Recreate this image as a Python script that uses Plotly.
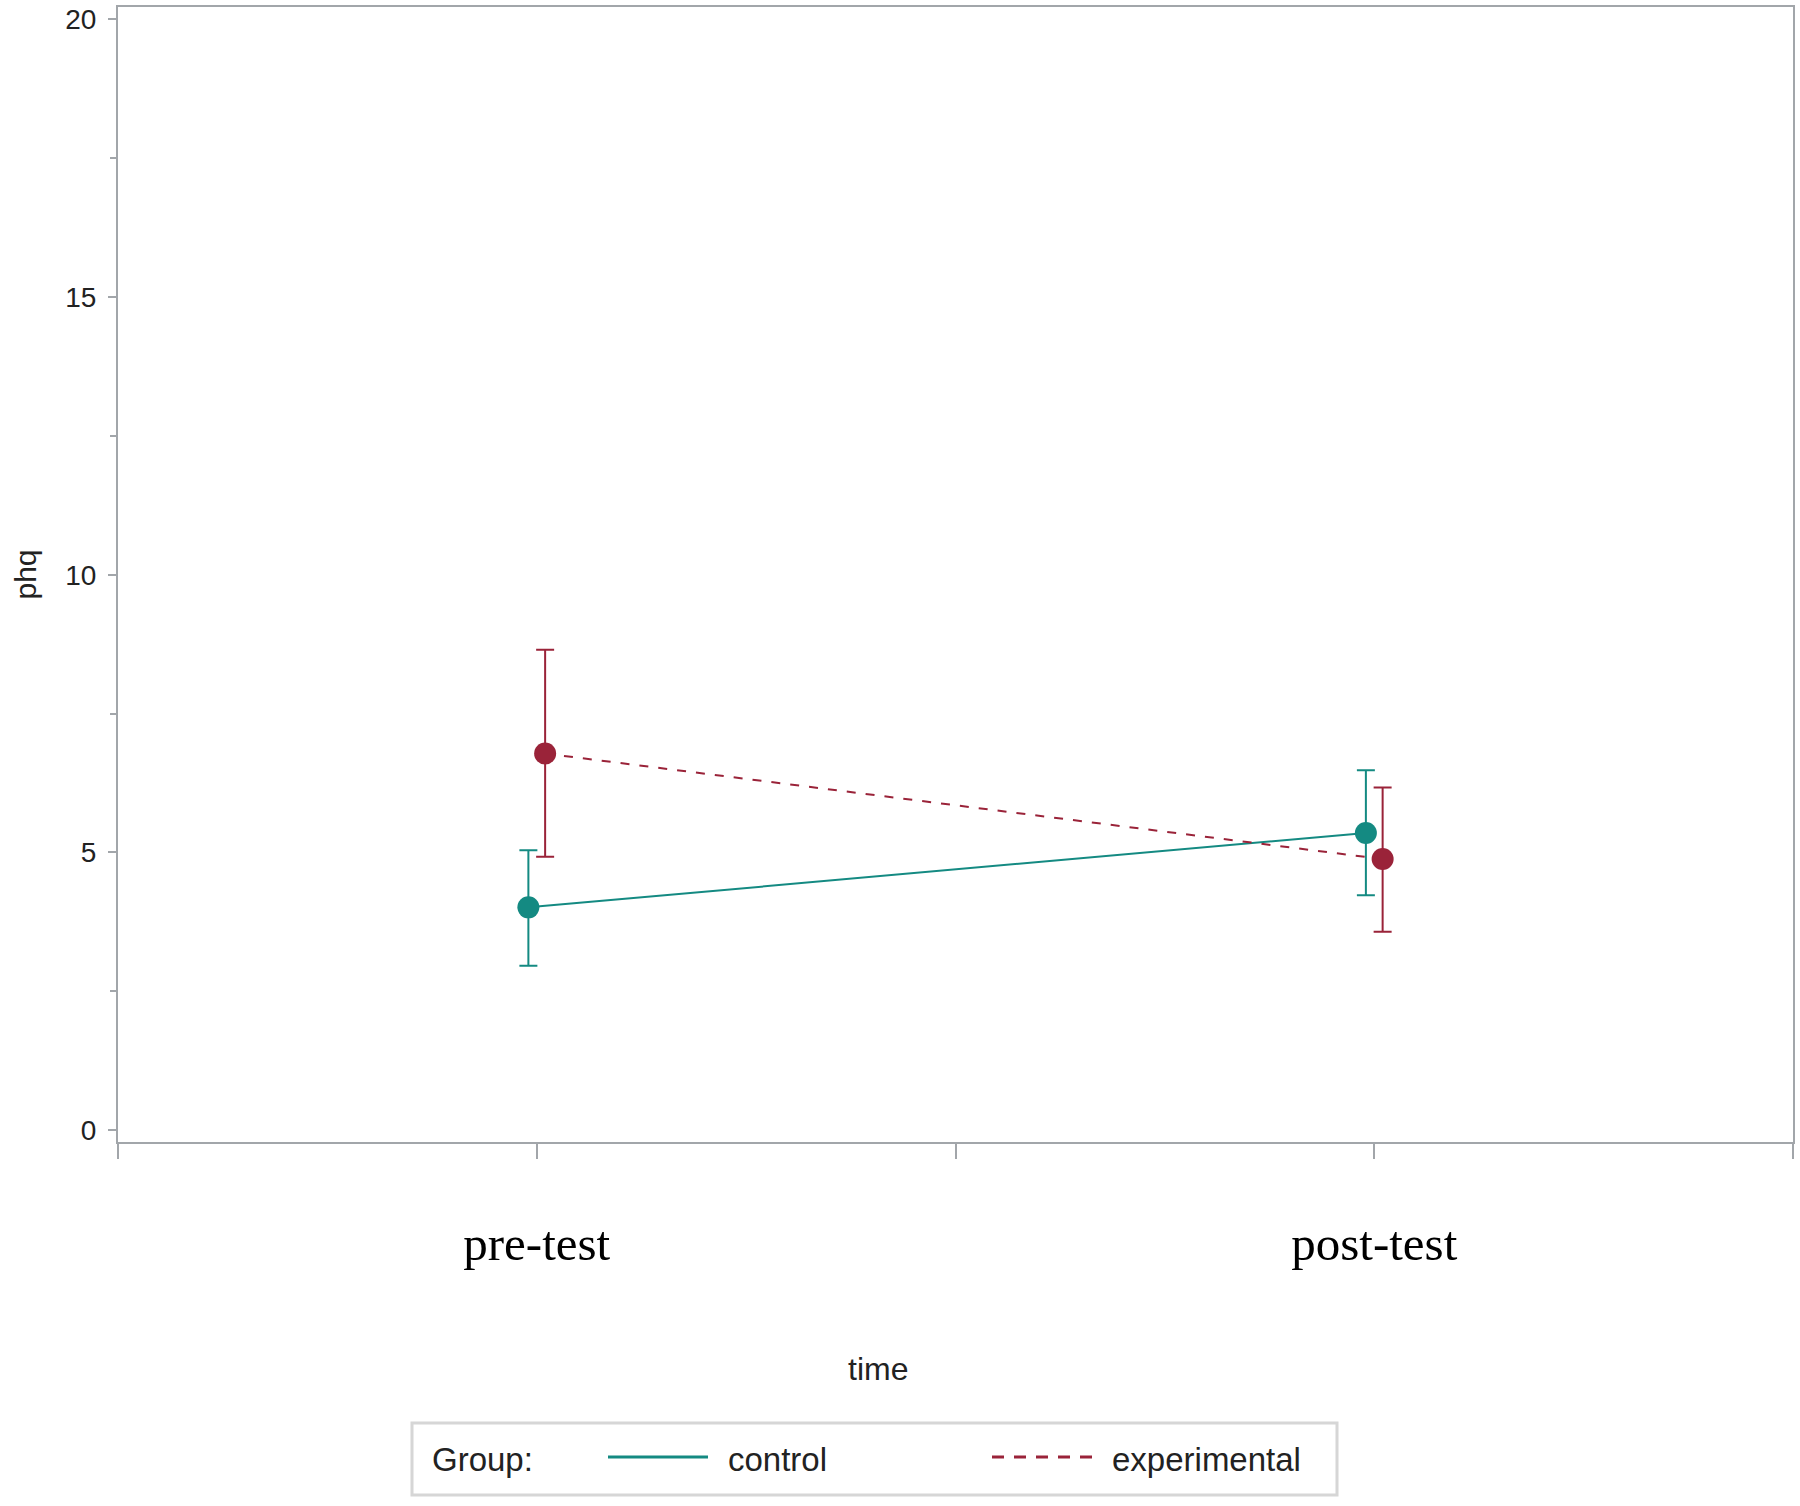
import plotly.graph_objects as go

# ---------------- data ----------------
time_labels = ["pre-test", "post-test"]
time_pos = [1, 3]
groups = ["control", "experimental"]
control_mean = [4.01, 5.35]
control_lower = [2.96, 4.23]
control_upper = [5.04, 6.48]
experimental_mean = [6.78, 4.88]
experimental_lower = [4.92, 3.57]
experimental_upper = [8.65, 6.17]
y_ticks = [0, 5, 10, 15, 20]

# ---------------- style ----------------
W, H = 1800, 1506
ML, MR, MT, MB = 118, 7, 7, 364
PW, PH = W - ML - MR, H - MT - MB
AXIS = "#a2a6aa"
TEAL = "#148a82"
RED = "#9a2339"
SANS = "Liberation Sans, Arial, sans-serif"
SERIF = "Liberation Serif, Times New Roman, serif"
OFFSET = 0.02


def px_x(px):
    return (px - ML) / PW


def px_y(py):
    return (H - MB - py) / PH


fig = go.Figure()

series = [
    (groups[0], control_mean, control_lower, control_upper, TEAL, "solid", -OFFSET),
    (groups[1], experimental_mean, experimental_lower, experimental_upper, RED, "9px,10px", OFFSET),
]
for name, mean, lo, hi, col, dash, off in series:
    fig.add_trace(go.Scatter(
        x=[p + off for p in time_pos],
        y=mean,
        name=name,
        mode="lines+markers",
        line=dict(color=col, width=2, dash=dash),
        marker=dict(color=col, size=22, line=dict(width=0)),
        error_y=dict(
            type="data", symmetric=False,
            array=[h - m for h, m in zip(hi, mean)],
            arrayminus=[m - l for m, l in zip(mean, lo)],
            color=col, thickness=2, width=9,
        ),
        showlegend=False,
    ))

fig.update_xaxes(
    range=[0, 4],
    tickvals=[0, 1, 2, 3, 4],
    ticktext=["", time_labels[0], "", time_labels[1], ""],
    ticks="outside", ticklen=15, tickwidth=2, tickcolor=AXIS,
    showline=True, linecolor=AXIS, linewidth=2, mirror=True,
    showgrid=False, zeroline=False, automargin=False,
    tickfont=dict(family=SERIF, size=49, color="#000"),
    ticklabelstandoff=42,
)
fig.update_yaxes(
    range=[-0.216, 20.225],
    tickvals=y_ticks,
    ticks="outside", ticklen=8, tickwidth=2, tickcolor=AXIS,
    minor=dict(dtick=2.5, tick0=0, ticks="outside", ticklen=6, tickwidth=2, tickcolor=AXIS, showgrid=False),
    showline=True, linecolor=AXIS, linewidth=2, mirror=True,
    showgrid=False, zeroline=False, automargin=False,
    tickfont=dict(family=SANS, size=28, color="#222"),
    ticklabelstandoff=6,
    title=dict(text="phq", font=dict(family=SANS, size=30, color="#222"), standoff=20),
)

annotations = [
    dict(text="time", x=px_x(878), y=px_y(1369), xref="paper", yref="paper",
         showarrow=False, xanchor="center", yanchor="middle",
         font=dict(family=SANS, size=32, color="#222")),
    dict(text="Group:", x=px_x(430), y=px_y(1459), xref="paper", yref="paper",
         showarrow=False, xanchor="left", yanchor="middle",
         font=dict(family=SANS, size=33, color="#222")),
    dict(text=groups[0], x=px_x(726), y=px_y(1459), xref="paper", yref="paper",
         showarrow=False, xanchor="left", yanchor="middle",
         font=dict(family=SANS, size=33, color="#222")),
    dict(text=groups[1], x=px_x(1110), y=px_y(1459), xref="paper", yref="paper",
         showarrow=False, xanchor="left", yanchor="middle",
         font=dict(family=SANS, size=33, color="#222")),
]

shapes = [
    dict(type="rect", xref="paper", yref="paper",
         x0=px_x(412), x1=px_x(1337), y0=px_y(1495), y1=px_y(1423),
         line=dict(color="#d6d6d6", width=3), fillcolor="white", layer="below"),
    dict(type="line", xref="paper", yref="paper",
         x0=px_x(608), x1=px_x(708), y0=px_y(1457), y1=px_y(1457),
         line=dict(color=TEAL, width=3)),
    dict(type="line", xref="paper", yref="paper",
         x0=px_x(992), x1=px_x(1092), y0=px_y(1457), y1=px_y(1457),
         line=dict(color=RED, width=3, dash="12px,10px")),
]

fig.update_layout(
    width=W, height=H,
    margin=dict(l=ML, r=MR, t=MT, b=MB, pad=0),
    paper_bgcolor="white", plot_bgcolor="white",
    annotations=annotations, shapes=shapes,
    showlegend=False,
)

fig.write_html(
    "out.html",
    config={"displayModeBar": False},
    post_script="document.body.style.margin='0';document.body.style.overflow='hidden';",
)
